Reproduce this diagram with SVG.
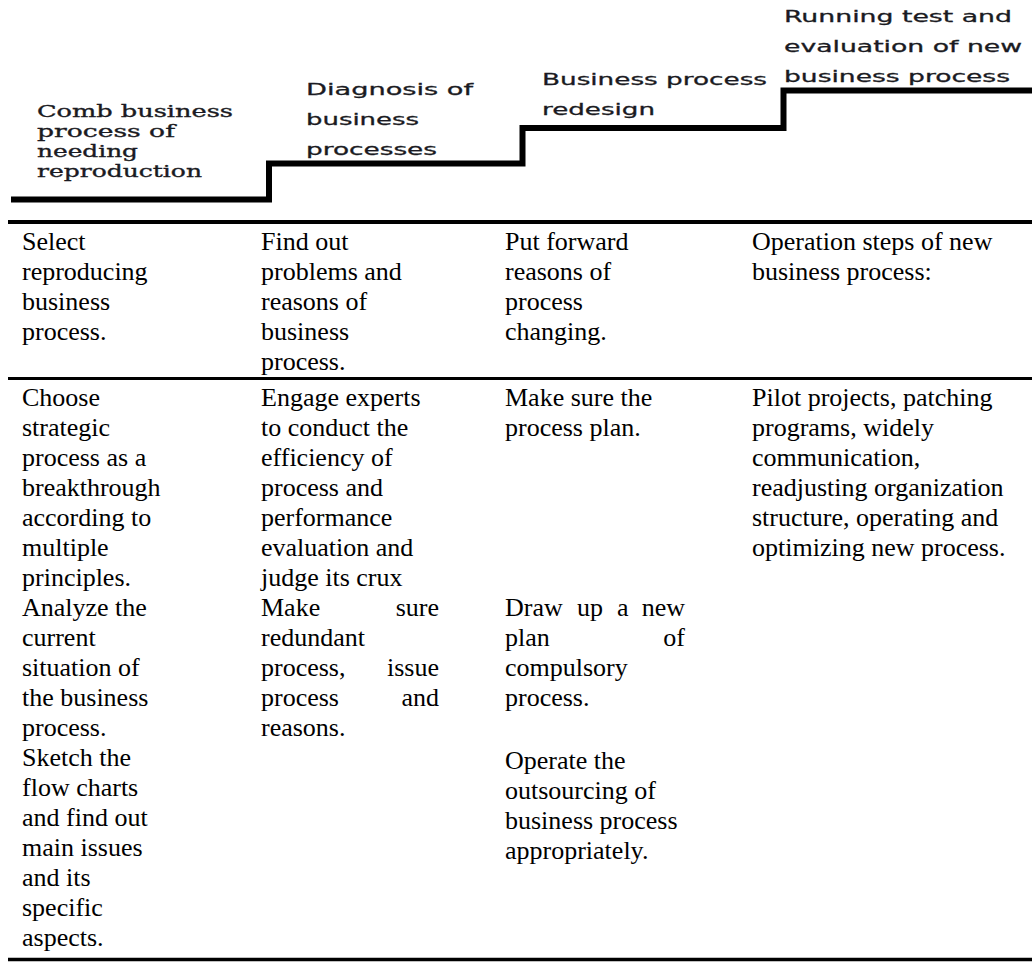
<svg xmlns="http://www.w3.org/2000/svg" width="1032" height="965" viewBox="0 0 1032 965">
<style>
.hs{font-family:"DejaVu Serif","Liberation Serif",serif;font-size:17px;fill:#1a1a22;stroke:#1a1a22;stroke-width:0.35px;}
.hn{font-family:"DejaVu Sans","Liberation Sans",sans-serif;font-size:16px;fill:#1a1a22;stroke:#1a1a22;stroke-width:0.3px;}
.b{font-family:"Liberation Serif","Times New Roman",serif;font-size:26px;fill:#000;}
.e{text-anchor:end;}
.rule{stroke:#000;fill:none;}
</style>
<rect width="1032" height="965" fill="#fff"/>
<g id="connectors">
<path class="rule" d="M11 199.5 H269 V163.5 H522.5 V128 H783.5 V90.5 H1032" stroke-width="6" stroke-linejoin="miter"/>
<line class="rule" x1="8" y1="222" x2="1032" y2="222" stroke-width="4"/>
<line class="rule" x1="8" y1="378.5" x2="1032" y2="378.5" stroke-width="3"/>
<line class="rule" x1="8" y1="959.5" x2="1032" y2="959.5" stroke-width="3.5"/>
</g>
<g id="step1">
<text class="hs"><tspan x="37" y="117" textLength="196" lengthAdjust="spacingAndGlyphs">Comb business</tspan><tspan x="37" y="137" textLength="138" lengthAdjust="spacingAndGlyphs">process of</tspan><tspan x="37" y="157" textLength="101" lengthAdjust="spacingAndGlyphs">needing</tspan><tspan x="37" y="177" textLength="165" lengthAdjust="spacingAndGlyphs">reproduction</tspan></text>
</g>
<g id="step2">
<text class="hn"><tspan x="306" y="95" textLength="167" lengthAdjust="spacingAndGlyphs">Diagnosis of</tspan><tspan x="306" y="125" textLength="113" lengthAdjust="spacingAndGlyphs">business</tspan><tspan x="306" y="155" textLength="131" lengthAdjust="spacingAndGlyphs">processes</tspan></text>
</g>
<g id="step3">
<text class="hn"><tspan x="542" y="85" textLength="225" lengthAdjust="spacingAndGlyphs">Business process</tspan><tspan x="542" y="115" textLength="113" lengthAdjust="spacingAndGlyphs">redesign</tspan></text>
</g>
<g id="step4">
<text class="hn"><tspan x="784" y="22" textLength="228" lengthAdjust="spacingAndGlyphs">Running test and</tspan><tspan x="784" y="52" textLength="238" lengthAdjust="spacingAndGlyphs">evaluation of new</tspan><tspan x="784" y="82" textLength="226" lengthAdjust="spacingAndGlyphs">business process</tspan></text>
</g>
<g id="r1c1">
<text class="b"><tspan x="22" y="250">Select</tspan><tspan x="22" y="280">reproducing</tspan><tspan x="22" y="310">business</tspan><tspan x="22" y="340">process.</tspan></text>
</g>
<g id="r1c2">
<text class="b"><tspan x="261" y="250">Find out</tspan><tspan x="261" y="280">problems and</tspan><tspan x="261" y="310">reasons of</tspan><tspan x="261" y="340">business</tspan><tspan x="261" y="370">process.</tspan></text>
</g>
<g id="r1c3">
<text class="b"><tspan x="505" y="250">Put forward</tspan><tspan x="505" y="280">reasons of</tspan><tspan x="505" y="310">process</tspan><tspan x="505" y="340">changing.</tspan></text>
</g>
<g id="r1c4">
<text class="b"><tspan x="752" y="250">Operation steps of new</tspan><tspan x="752" y="280">business process:</tspan></text>
</g>
<g id="r2c1">
<text class="b"><tspan x="22" y="406">Choose</tspan><tspan x="22" y="436">strategic</tspan><tspan x="22" y="466">process as a</tspan><tspan x="22" y="496">breakthrough</tspan><tspan x="22" y="526">according to</tspan><tspan x="22" y="556">multiple</tspan><tspan x="22" y="586">principles.</tspan><tspan x="22" y="616">Analyze the</tspan><tspan x="22" y="646">current</tspan><tspan x="22" y="676">situation of</tspan><tspan x="22" y="706">the business</tspan><tspan x="22" y="736">process.</tspan><tspan x="22" y="766">Sketch the</tspan><tspan x="22" y="796">flow charts</tspan><tspan x="22" y="826">and find out</tspan><tspan x="22" y="856">main issues</tspan><tspan x="22" y="886">and its</tspan><tspan x="22" y="916">specific</tspan><tspan x="22" y="946">aspects.</tspan></text>
</g>
<g id="r2c2">
<text class="b"><tspan x="261" y="406">Engage experts</tspan><tspan x="261" y="436">to conduct the</tspan><tspan x="261" y="466">efficiency of</tspan><tspan x="261" y="496">process and</tspan><tspan x="261" y="526">performance</tspan><tspan x="261" y="556">evaluation and</tspan><tspan x="261" y="586">judge its crux</tspan><tspan x="261" y="616">Make</tspan><tspan x="261" y="646">redundant</tspan><tspan x="261" y="676">process,</tspan><tspan x="261" y="706">process</tspan><tspan x="261" y="736">reasons.</tspan></text>
<text class="b e"><tspan x="439" y="616">sure</tspan><tspan x="439" y="676">issue</tspan><tspan x="439" y="706">and</tspan></text>
</g>
<g id="r2c3">
<text class="b"><tspan x="505" y="406">Make sure the</tspan><tspan x="505" y="436">process plan.</tspan><tspan x="505" y="616">Draw</tspan><tspan x="577" y="616">up</tspan><tspan x="617" y="616">a</tspan><tspan x="505" y="646">plan</tspan><tspan x="505" y="676">compulsory</tspan><tspan x="505" y="706">process.</tspan><tspan x="505" y="769">Operate the</tspan><tspan x="505" y="799">outsourcing of</tspan><tspan x="505" y="829">business process</tspan><tspan x="505" y="859">appropriately.</tspan></text>
<text class="b e"><tspan x="685" y="616">new</tspan><tspan x="685" y="646">of</tspan></text>
</g>
<g id="r2c4">
<text class="b"><tspan x="752" y="406">Pilot projects, patching</tspan><tspan x="752" y="436">programs, widely</tspan><tspan x="752" y="466">communication,</tspan><tspan x="752" y="496">readjusting organization</tspan><tspan x="752" y="526">structure, operating and</tspan><tspan x="752" y="556">optimizing new process.</tspan></text>
</g>
</svg>
